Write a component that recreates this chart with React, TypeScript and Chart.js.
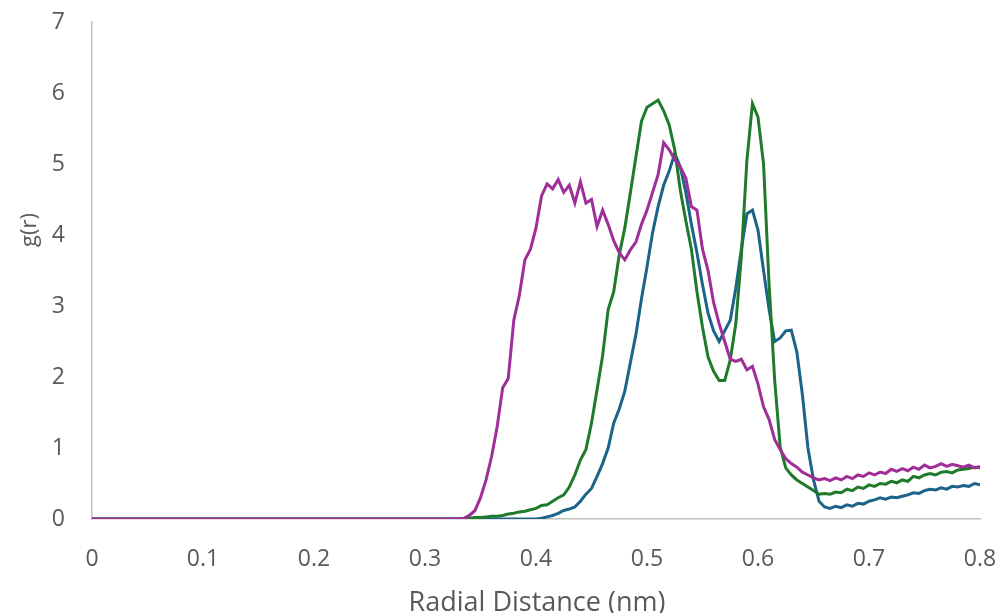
import React, { useEffect, useRef } from "react";
import { Chart, registerables } from "chart.js";

Chart.register(...registerables);

const radialNm = [
  0, 0.330, 0.335, 0.340, 0.345, 0.350, 0.355, 0.360, 0.365, 0.370,
  0.375, 0.380, 0.385, 0.390, 0.395, 0.400, 0.405, 0.410, 0.415, 0.420,
  0.425, 0.430, 0.435, 0.440, 0.445, 0.450, 0.455, 0.460, 0.465, 0.470,
  0.475, 0.480, 0.485, 0.490, 0.495, 0.500, 0.505, 0.510, 0.515, 0.520,
  0.525, 0.530, 0.535, 0.540, 0.545, 0.550, 0.555, 0.560, 0.565, 0.570,
  0.575, 0.580, 0.585, 0.590, 0.595, 0.600, 0.605, 0.610, 0.615, 0.620,
  0.625, 0.630, 0.635, 0.640, 0.645, 0.650, 0.655, 0.660, 0.665, 0.670,
  0.675, 0.680, 0.685, 0.690, 0.695, 0.700, 0.705, 0.710, 0.715, 0.720,
  0.725, 0.730, 0.735, 0.740, 0.745, 0.750, 0.755, 0.760, 0.765, 0.770,
  0.775, 0.780, 0.785, 0.790, 0.795, 0.800,
];

const gBlue = [
  0, 0, 0, 0, 0, 0, 0, 0, 0, 0,
  0, 0, 0, 0, 0, 0, 0.01, 0.03, 0.05, 0.08,
  0.12, 0.14, 0.17, 0.25, 0.35, 0.43, 0.6, 0.78, 1.0, 1.35,
  1.55, 1.8, 2.2, 2.6, 3.1, 3.55, 4.03, 4.4, 4.7, 4.9,
  5.15, 4.96, 4.6, 4.15, 3.75, 3.3, 2.9, 2.65, 2.5, 2.65,
  2.8, 3.25, 3.8, 4.3, 4.35, 4.07, 3.5, 2.95, 2.5, 2.55,
  2.65, 2.66, 2.35, 1.75, 1.0, 0.55, 0.25, 0.17, 0.15, 0.18,
  0.16, 0.2, 0.18, 0.22, 0.21, 0.25, 0.27, 0.3, 0.28, 0.31,
  0.3, 0.32, 0.34, 0.37, 0.36, 0.4, 0.42, 0.41, 0.44, 0.42,
  0.46, 0.45, 0.47, 0.46, 0.5, 0.48,
];

const gGreen = [
  0, 0, 0, 0.01, 0.02, 0.02, 0.03, 0.04, 0.04, 0.05,
  0.07, 0.08, 0.1, 0.11, 0.13, 0.15, 0.19, 0.2, 0.25, 0.3,
  0.34, 0.45, 0.62, 0.83, 0.98, 1.35, 1.82, 2.3, 2.95, 3.2,
  3.72, 4.1, 4.59, 5.1, 5.6, 5.8, 5.85, 5.9, 5.75, 5.55,
  5.2, 4.63, 4.2, 3.8, 3.2, 2.7, 2.28, 2.08, 1.95, 1.95,
  2.24, 2.75, 3.7, 5.05, 5.85, 5.66, 5.0, 3.3, 1.96, 1.01,
  0.72, 0.62, 0.55, 0.5, 0.45, 0.4, 0.35, 0.36, 0.35, 0.38,
  0.37, 0.42, 0.4, 0.45, 0.43, 0.48, 0.46, 0.5, 0.49, 0.53,
  0.51, 0.55, 0.53, 0.6, 0.58, 0.62, 0.64, 0.62, 0.66, 0.67,
  0.65, 0.69, 0.7, 0.71, 0.73, 0.72,
];

const gPurple = [
  0, 0, 0.01, 0.05, 0.12, 0.3, 0.55, 0.88, 1.3, 1.85,
  1.98, 2.8, 3.15, 3.65, 3.8, 4.1, 4.55, 4.72, 4.65, 4.78,
  4.6, 4.7, 4.45, 4.75, 4.45, 4.5, 4.12, 4.35, 4.15, 3.92,
  3.75, 3.65, 3.79, 3.9, 4.15, 4.35, 4.6, 4.85, 5.3, 5.2,
  5.06, 4.96, 4.8, 4.4, 4.35, 3.8, 3.5, 3.05, 2.75, 2.5,
  2.25, 2.22, 2.25, 2.1, 2.15, 1.9, 1.58, 1.4, 1.12, 0.98,
  0.85, 0.78, 0.73, 0.66, 0.62, 0.58, 0.55, 0.57, 0.54, 0.58,
  0.55, 0.6, 0.57, 0.62, 0.6, 0.65, 0.62, 0.66, 0.64, 0.7,
  0.67, 0.71, 0.68, 0.73, 0.7, 0.76, 0.72, 0.74, 0.78, 0.74,
  0.77, 0.75, 0.73, 0.76, 0.72, 0.74,
];

const xTitle = "Radial Distance (nm)";
const yTitle = "g(r)";
const textColor = "#595959";
const fontFamily = "'Open Sans', 'Noto Sans', sans-serif";

const toPoints = (ys: number[]) => radialNm.map((x, i) => ({ x, y: ys[i] }));

export default function App() {
  const canvasRef = useRef<HTMLCanvasElement | null>(null);

  useEffect(() => {
    const canvas = canvasRef.current;
    if (!canvas) return;

    const titlePlugin = {
      id: "axisTitles",
      afterDraw(chart: any) {
        const ctx = chart.ctx;
        ctx.save();
        ctx.fillStyle = textColor;
        ctx.font = `27px ${fontFamily}`;
        ctx.textAlign = "center";
        ctx.textBaseline = "alphabetic";
        ctx.fillText(xTitle, 537, 611);
        ctx.font = `22px ${fontFamily}`;
        ctx.textBaseline = "middle";
        ctx.translate(30, 230);
        ctx.rotate(-Math.PI / 2);
        ctx.fillText(yTitle, 0, 0);
        ctx.restore();
      },
    };

    const hiddenTicks = {
      display: true,
      drawOnChartArea: false,
      drawTicks: true,
      tickLength: 25,
      color: "rgba(0,0,0,0)",
    };

    const chart = new Chart(canvas, {
      type: "line",
      data: {
        datasets: [
          {
            label: "Blue",
            data: toPoints(gBlue),
            borderColor: "#1B6388",
            borderWidth: 3,
            pointRadius: 0,
            tension: 0,
            order: 3,
          },
          {
            label: "Green",
            data: toPoints(gGreen),
            borderColor: "#1F7A2C",
            borderWidth: 3,
            pointRadius: 0,
            tension: 0,
            order: 2,
          },
          {
            label: "Purple",
            data: toPoints(gPurple),
            borderColor: "#A02E98",
            borderWidth: 3,
            pointRadius: 0,
            tension: 0,
            order: 1,
          },
        ],
      },
      options: {
        animation: false,
        responsive: false,
        maintainAspectRatio: false,
        layout: { padding: { top: 22, right: 19, left: 0, bottom: 0 } },
        plugins: {
          legend: { display: false },
          tooltip: { enabled: false },
          title: { display: false },
        },
        scales: {
          x: {
            type: "linear",
            min: 0,
            max: 0.8,
            grid: { ...hiddenTicks },
            border: { display: true, color: "#BFBFBF", width: 1.5 },
            ticks: {
              stepSize: 0.1,
              autoSkip: false,
              maxRotation: 0,
              padding: 2,
              color: textColor,
              font: { family: fontFamily, size: 23 },
              callback: (v: any) => String(Number(Number(v).toFixed(1))),
            },
            afterFit: (scale: any) => {
              scale.height = 94;
            },
          },
          y: {
            type: "linear",
            min: 0,
            max: 7,
            grid: { ...hiddenTicks },
            border: { display: true, color: "#BFBFBF", width: 1.5 },
            ticks: {
              stepSize: 1,
              autoSkip: false,
              padding: 2,
              color: textColor,
              font: { family: fontFamily, size: 23 },
            },
            afterFit: (scale: any) => {
              scale.width = 92;
            },
          },
        },
      },
      plugins: [titlePlugin],
    });

    return () => chart.destroy();
  }, []);

  return (
    <div style={{ position: "fixed", left: 0, top: 0, width: 999, height: 613, background: "#fff" }}>
      <canvas ref={canvasRef} width={999} height={613} style={{ display: "block" }} />
    </div>
  );
}
